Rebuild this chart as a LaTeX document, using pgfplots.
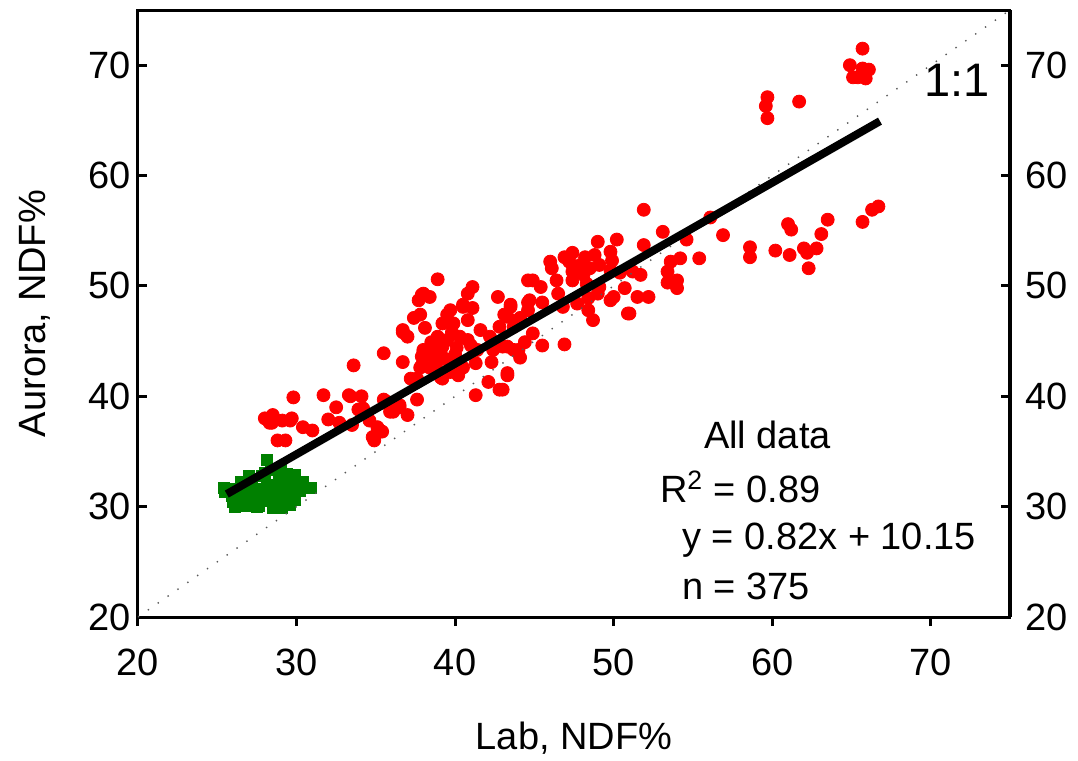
\documentclass[border=0pt]{standalone}
\usepackage{fontspec}
\setmainfont{Liberation Sans}
\usepackage{pgfplots}
\pgfplotsset{compat=1.18}
\definecolor{ptred}{HTML}{FF0000}
\definecolor{ptgreen}{HTML}{008000}

\newcommand{\bigtxt}{\fontsize{19}{19}\selectfont}

\pgfplotsset{
  ndf/.style={
    scale only axis,
    width=436pt, height=303.5pt,
    xmin=20, xmax=75, ymin=20, ymax=75,
    xtick={20,30,...,70}, ytick={20,30,...,70},
    /pgf/number format/assume math mode=true,
    tick label style={font=\bigtxt},
    axis line style={line width=1.5pt},
    major tick length=4.5pt,
    every tick/.style={black,line width=1.5pt},
    clip mode=individual,
  }
}

\begin{document}
\begin{tikzpicture}
\begin{axis}[
  ndf,
  xtick pos=bottom, xtick align=outside,
  ytick pos=left, ytick align=inside,
  xticklabel style={yshift=-8pt},
  xlabel={Lab, NDF\%},
  ylabel={Aurora, NDF\%},
  every axis x label/.style={at={(axis description cs:0.5,-0.199)},anchor=center,font=\bigtxt},
  every axis y label/.style={at={(axis description cs:-0.118,0.5)},anchor=center,rotate=90,font=\bigtxt},
]
% green group
\addplot[only marks, mark=square*, mark size=2.75pt, color=ptgreen] coordinates {
 (25.4,31.7) (25.5,31.3) (25.9,31.0) (26.1,30.0) (26.2,31.6) (26.4,30.6)
 (26.6,31.2) (26.8,30.1) (26.9,31.9) (27.0,31.0) (27.2,32.4) (27.3,30.5)
 (27.5,31.6) (27.6,30.1) (27.8,32.8) (27.9,31.2) (28.0,30.5) (28.1,32.0)
 (28.5,29.9) (28.3,31.5) (28.4,33.3) (28.5,30.8) (28.1,34.2) (28.7,31.9)
 (28.8,30.3) (28.9,32.6) (29.0,31.2) (29.1,29.9) (29.2,32.1) (29.3,30.6)
 (29.4,33.0) (29.5,31.5) (29.6,30.2) (29.7,32.4) (29.8,31.0) (30.0,31.8)
 (30.2,31.4) (30.9,31.7) (29.9,30.6) (27.0,32.8) (26.5,32.2) (28.0,33.1)
 (29.0,33.3) (29.9,32.9) (28.8,31.0) (27.5,30.0) (26.0,30.4) (30.4,32.2)
};
% red group
\addplot[only marks, mark=*, mark size=3.25pt, color=ptred] coordinates {
 (28.5,38.3) (28.45,37.6) (28.8,36.0) (29.3,36.0) (29.1,37.8) (29.7,38.0)
 (29.8,39.9) (30.4,37.2) (31.0,36.9) (31.7,40.1) (32.5,39.0) (32.0,37.9)
 (33.3,40.1) (34.1,40.0) (33.6,42.8) (32.7,37.6) (33.5,37.4) (33.9,38.8)
 (34.2,38.9) (34.6,37.8) (34.8,36.3) (35.1,36.7) (35.5,43.9) (35.6,39.4)
 (36.1,38.6) (37.0,38.3) (37.6,39.7) (36.7,43.1) (36.7,45.8) (37.0,45.4)
 (37.4,47.1) (37.8,47.4) (38.1,46.2) (37.2,41.6) (37.8,42.6) (38.0,44.0)
 (38.5,44.9) (39.1,43.9) (39.2,41.6) (39.7,42.2) (40.5,42.6) (41.3,40.1)
 (42.1,41.3) (42.8,40.6) (43.3,41.9) (42.3,43.1) (43.7,44.2) (44.1,43.5)
 (39.5,47.4) (39.2,46.6) (40.5,48.1) (38.9,50.6) (37.9,49.2) (38.4,49.0)
 (37.7,48.7) (33.4,40.0) (35.7,39.5) (36.5,39.0) (35.1,37.2) (35.4,36.8)
 (28.3,37.6) (29.6,37.8) (28.0,38.0) (34.9,36.0)
 (41.1,49.9) (40.8,49.3) (38.0,49.3) (42.7,49.0) (43.5,48.3) (44.6,50.5)
 (44.6,48.5) (39.7,47.8) (40.5,48.3) (41.1,48.0) (39.9,46.6) (40.8,46.9)
 (36.7,46.0) (41.6,46.0) (42.8,46.3) (43.3,47.2) (44.0,46.9) (38.9,45.4)
 (39.5,45.1) (40.3,45.4) (40.8,45.1) (42.2,45.4) (38.0,44.2) (38.6,44.6)
 (39.2,44.5) (40.1,44.4) (41.4,44.2) (37.9,43.6) (38.4,43.7) (39.5,43.3)
 (42.4,44.2) (43.0,44.5) (37.9,42.8) (38.4,42.6) (40.4,42.6) (41.3,43.0)
 (37.6,41.6) (39.1,41.7) (43.3,42.1) (43.0,40.6) (36.5,39.2) (35.5,39.7)
 (35.9,38.6) (40.0,43.8) (41.0,44.6) (39.8,45.8) (38.8,42.9) (40.2,41.9)
 (51.9,56.9) (50.2,54.2) (51.9,53.7) (49.0,54.0) (49.8,53.1) (48.2,52.6)
 (47.4,53.0) (46.9,52.6) (46.0,52.2) (46.1,51.6) (47.9,51.9) (48.5,51.6)
 (49.1,51.9) (49.9,52.3) (47.4,51.3) (48.1,51.0) (49.8,51.4) (50.4,51.2)
 (51.2,51.3) (51.7,51.0) (47.4,50.5) (48.3,50.2) (49.1,49.9) (46.4,50.5)
 (44.9,50.5) (45.4,49.9) (49.0,49.3) (49.8,48.7) (50.7,49.8) (51.5,49.0)
 (52.2,49.0) (48.4,48.9) (47.7,48.4) (46.8,48.1) (45.5,48.5) (44.7,48.7)
 (44.6,47.8) (48.4,47.8) (50.9,47.5) (48.7,46.9) (43.5,48.1) (44.1,47.1)
 (43.1,47.4) (43.7,46.3) (44.9,45.7) (44.4,44.9) (45.5,44.6) (46.9,44.7)
 (44.0,44.2) (43.3,44.5) (47.2,52.2) (48.8,52.8) (46.5,49.3)
 (53.1,54.9) (56.1,56.2) (56.9,54.6) (54.6,54.2) (58.6,53.5) (58.6,52.6)
 (53.6,52.2) (54.2,52.5) (55.4,52.5) (53.4,51.3) (53.4,50.3) (54.0,50.5)
 (54.0,49.8) (50.0,49.0) (51.0,47.5)
 (65.7,71.5) (64.9,70.0) (65.1,68.9) (65.7,69.7) (66.1,69.6) (65.9,68.8)
 (65.4,68.9) (59.7,67.1) (59.6,66.3) (59.7,65.2) (61.7,66.7) (60.2,53.2)
 (61.0,55.6) (61.2,55.1) (61.1,52.8) (62.0,53.4) (62.2,53.0) (62.8,53.4)
 (63.1,54.7) (63.5,56.0) (62.3,51.6) (65.7,55.8) (66.3,56.9) (66.7,57.2)
};
% 1:1 line
\addplot[black!65, line width=0.7pt, dash pattern=on 0.7pt off 5.3pt] coordinates {(20,20) (75,75)};
% regression
\addplot[black, line width=4pt] coordinates {(25.6,31.14) (66.8,64.93)};

\node[font=\bigtxt, anchor=center] at (axis cs:59.7,36.5) {All data};
\node[font=\bigtxt, anchor=west, inner sep=0pt] at (axis cs:52.9,31.8) {R\textsuperscript{2} = 0.89};
\node[font=\bigtxt, anchor=west, inner sep=0pt] at (axis cs:54.3,27.0) {y = 0.82x + 10.15};
\node[font=\bigtxt, anchor=west, inner sep=0pt] at (axis cs:54.3,22.8) {n = 375};
\node[font=\fontsize{23.5}{23.5}\selectfont, anchor=east, inner sep=0pt] at (axis cs:73.75,68.6) {1:1};
\end{axis}
\begin{axis}[
  ndf,
  hide x axis,
  axis y line*=right,
  ytick align=inside,
  yticklabel pos=right,
  yticklabel style={xshift=4pt},
]
\end{axis}
\pgfresetboundingbox
\path (-69pt,-72pt) rectangle (470pt,308.5pt);
\end{tikzpicture}
\end{document}
